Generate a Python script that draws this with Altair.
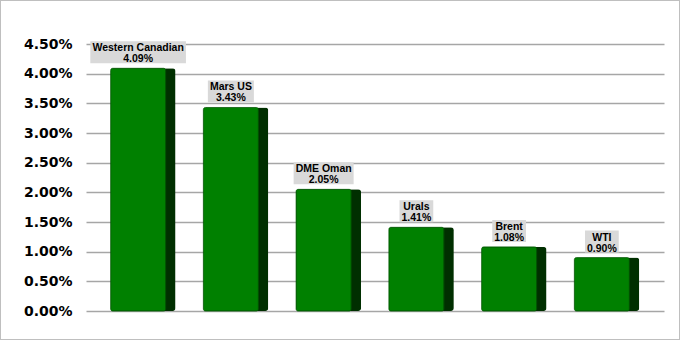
import altair as alt
import pandas as pd

names = ["Western Canadian", "Mars US", "DME Oman", "Urals", "Brent", "WTI"]
values = [0.0409, 0.0343, 0.0205, 0.0141, 0.0108, 0.0090]
y_ticks = [0, 0.005, 0.01, 0.015, 0.02, 0.025, 0.03, 0.035, 0.04, 0.045]

# approximate Arial Bold advance widths (per 1000 em) to size label boxes
AW = {"W": 944, "e": 556, "s": 556, "t": 333, "r": 389, "n": 611, " ": 278,
      "C": 722, "a": 556, "d": 611, "i": 278, "M": 833, "U": 722, "S": 667,
      "D": 722, "E": 667, "O": 778, "m": 889, "u": 611, "l": 278, "B": 722,
      "T": 611, "I": 278, ".": 278, "%": 889}
FS = 10.5


def text_w(s):
    return sum(AW.get(c, 556) for c in s) * FS / 1000.0


df = pd.DataFrame({"name": names, "value": values})
df["pct"] = [f"{v*100:.2f}%" for v in values]
df["label"] = df["name"] + "\n" + df["pct"]

W, H = 578, 267
xenc = alt.X("name:N", sort=names, axis=None,
             scale=alt.Scale(paddingInner=0.3, paddingOuter=0.266))
yscale = alt.Scale(domain=[0, 0.045], nice=False)
yaxis = alt.Axis(values=y_ticks, format=".2%", title=None,
                 domain=False, ticks=False, labelPadding=14, labelOverlap=False,
                 labelFont="DejaVu Sans", labelFontWeight="bold",
                 labelFontSize=14, labelColor="#000000",
                 grid=True, gridColor="#a6a6a6", gridWidth=1.5)
yenc = alt.Y("value:Q", scale=yscale, axis=yaxis)

base = alt.Chart(df)

side = base.mark_bar(color="#002f00", width=65, cornerRadius=3).encode(
    x=xenc, y=yenc)
front = base.mark_bar(color="#008000", width=55, xOffset=-5, cornerRadius=2,
                      stroke="#005a00", strokeWidth=0.8).encode(x=xenc, y=yenc)

boxes = []
for n, p in zip(names, df["pct"]):
    w = max(text_w(n), text_w(p)) + 4
    boxes.append(
        base.transform_filter(alt.datum.name == n)
        .mark_bar(color="#d9d9d9", width=w, xOffset=-5, yOffset=-5, y2Offset=-27)
        .encode(x=xenc, y=yenc, y2=alt.Y2("value:Q"))
    )

labels = base.mark_text(font="Liberation Sans", fontWeight="bold", fontSize=FS,
                        lineBreak="\n", lineHeight=11, baseline="alphabetic",
                        align="center", xOffset=-5, yOffset=-17,
                        color="#000000").encode(
    x=xenc, y=yenc, text="label:N")

border = base.mark_rect(fill=None, stroke="#bfbfbf", strokeWidth=1).encode(
    x=alt.value(-85.5), x2=alt.value(593.5),
    y=alt.value(-43.5), y2=alt.value(295.5))

chart = alt.layer(side, front, *boxes, labels, border).properties(
    width=W, height=H,
    autosize=alt.AutoSizeParams(type="none"),
    padding={"left": 86, "top": 44, "right": 17, "bottom": 30},
    background="white",
).configure_view(stroke=None)

chart.save("out.html", embed_options={"renderer": "svg", "actions": False})
